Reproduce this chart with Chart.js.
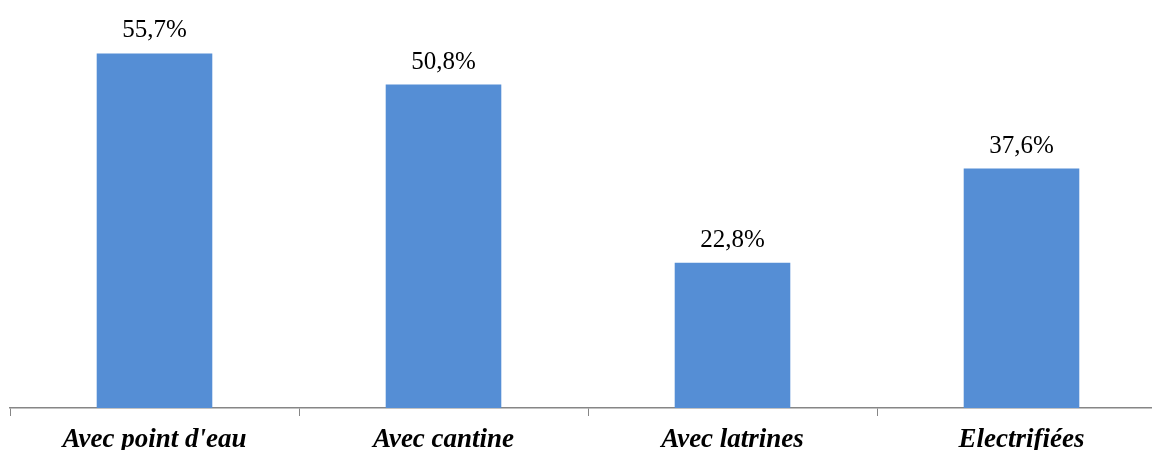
<!DOCTYPE html>
<html>
<head>
<meta charset="utf-8">
<script src="https://cdn.jsdelivr.net/npm/chart.js@4"></script>
<style>
  html, body { margin: 0; padding: 0; background: #fff; overflow: hidden; }
  #wrap { width: 1170px; height: 450px; }
</style>
</head>
<body>
<div id="wrap"><canvas id="myChart"></canvas></div>
<script>
const categories = ["Avec point d'eau", "Avec cantine", "Avec latrines", "Electrifiées"];
const values = [55.7, 50.8, 22.8, 37.6];
const valueLabels = ["55,7%", "50,8%", "22,8%", "37,6%"];

const barLabels = {
  id: "barLabels",
  afterDatasetsDraw(chart) {
    const ctx = chart.ctx;
    const meta = chart.getDatasetMeta(0);
    ctx.save();
    ctx.font = "25px 'Liberation Serif', 'Times New Roman', serif";
    ctx.fillStyle = "#000";
    ctx.textAlign = "center";
    ctx.textBaseline = "alphabetic";
    meta.data.forEach((bar, i) => {
      ctx.fillText(valueLabels[i], bar.x, bar.y - 16);
    });
    ctx.restore();
  },
};

const ctx = document.getElementById("myChart");
const chart = new Chart(ctx, {
  type: "bar",
  data: {
    labels: categories,
    datasets: [
      {
        data: values,
        backgroundColor: "#558ED5",
        categoryPercentage: 1,
        barPercentage: 0.4,
      },
    ],
  },
  options: {
    animation: false,
    responsive: true,
    maintainAspectRatio: false,
    layout: { padding: { top: 26, left: 10, right: 4, bottom: 0 } },
    plugins: { legend: { display: false }, tooltip: { enabled: false } },
    scales: {
      y: { display: false, min: 0, max: 60 },
      x: {
        grid: {
          offset: true,
          drawOnChartArea: false,
          drawTicks: true,
          tickLength: 8,
          color: "#868686",
        },
        border: { color: "#868686", width: 1.5 },
        ticks: {
          color: "#000",
          padding: 8,
          maxRotation: 0,
          font: { family: "'Liberation Serif', 'Times New Roman', serif", size: 27, weight: "bold", style: "italic" },
        },
        afterFit: (s) => { s.height = 42; },
      },
    },
  },
  plugins: [barLabels],
});
</script>
</body>
</html>
